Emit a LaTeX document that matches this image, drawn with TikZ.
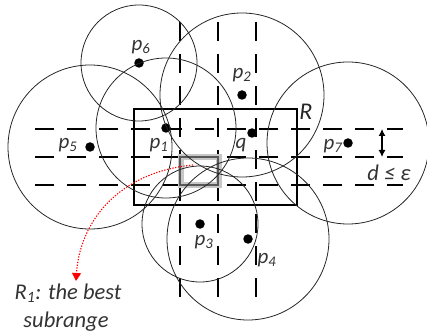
\documentclass[tikz,border=0pt]{standalone}
\usepackage{fontspec}
\setmainfont{Carlito}
\usetikzlibrary{arrows.meta}
\tikzset{
  dot/.style={circle,fill=black,inner sep=0pt,minimum size=9.5pt},
  ring/.style={draw=black!85,line width=0.8pt},
  grid/.style={draw=black,line width=1.2pt,dash pattern=on 19pt off 13pt},
  lbl/.style={font=\fontsize{21}{24}\selectfont\itshape,text=black!80,inner sep=0pt},
  big/.style={font=\fontsize{22.5}{26}\selectfont\itshape,text=black!80,inner sep=0pt},
}
\begin{document}
\begin{tikzpicture}[x=1pt,y=-1pt]
\useasboundingbox (0,0) rectangle (427,336);
% grid lines
\foreach \yy/\nm in {129/h1,157/h2,185/h3}{
  \coordinate (\nm a) at (35,\yy); \coordinate (\nm b) at (403,\yy);
  \draw[grid] (\nm a) -- (\nm b);}
\foreach \xx/\nm in {180/v1,218/v2,256/v3}{
  \coordinate (\nm a) at (\xx,22); \coordinate (\nm b) at (\xx,303);
  \draw[grid] (\nm a) -- (\nm b);}
% range R
\node[draw=black,line width=1.1pt,minimum width=163pt,minimum height=96pt,inner sep=0pt] (R) at (215.5,157) {};
\node[font=\fontsize{24}{28}\selectfont\itshape,text=black!85,inner sep=0pt] (Rl) at (306,112) {R};
% best subrange R1
\node[draw=black!22,line width=6pt,minimum width=38pt,minimum height=28pt,inner sep=0pt] (R1s) at (199.5,171.5) {};
\node[draw=black!65,line width=2.8pt,minimum width=38pt,minimum height=28pt,inner sep=0pt] (R1) at (199,171) {};
% points
\node[dot] (p1) at (166,128) {};
\node[dot] (p2) at (242,95) {};
\node[dot] (p3) at (200,224) {};
\node[dot] (p4) at (248,239) {};
\node[dot] (p5) at (90,147) {};
\node[dot] (p6) at (139,63) {};
\node[dot] (p7) at (348,143) {};
\node[dot] (q) at (252,133) {};
% circles
\draw[ring] (p6) circle[radius=58pt];
\draw[ring] (p5) circle[radius=82pt];
\draw[ring] (p1) circle[radius=70pt];
\draw[ring] (p2) circle[radius=82pt];
\draw[ring] (p7) circle[radius=81pt];
\draw[ring] (p3) circle[radius=58pt];
\draw[ring] (p4) circle[radius=81pt];
% labels
\node[lbl] (l6) at (141,47) {p\textsubscript{6}};
\node[lbl] (l5) at (68,145) {p\textsubscript{5}};
\node[lbl] (l1) at (159,145) {p\textsubscript{1}};
\node[lbl] (l2) at (242,75) {p\textsubscript{2}};
\node[lbl] (lq) at (241,145) {q};
\node[lbl] (l7) at (333,146) {p\textsubscript{7}};
\node[lbl] (l3) at (204,242) {p\textsubscript{3}};
\node[lbl] (l4) at (267,260) {p\textsubscript{4}};
% distance
\coordinate (d1) at (382,129);
\coordinate (d2) at (382,157);
\draw[line width=1.1pt,{Latex[width=7pt,length=7pt]}-{Latex[width=7pt,length=7pt]}] (d1) -- (d2);
\node[big,anchor=base] (dl) at (389,181) {d ≤ ε};
% annotation
\node[big,anchor=base] (t1) at (68,299) {R\textsubscript{1}: the best};
\node[big,anchor=base] (t2) at (66,327) {subrange};
\coordinate (a0) at (193,165);
\coordinate (a1) at (76,281);
\draw[red,line width=1.1pt,dash pattern=on 1.3pt off 1.5pt,-{Triangle[width=9pt,length=8pt]}] (a0) .. controls (120,172) and (80,220) .. (a1);
\end{tikzpicture}
\end{document}
